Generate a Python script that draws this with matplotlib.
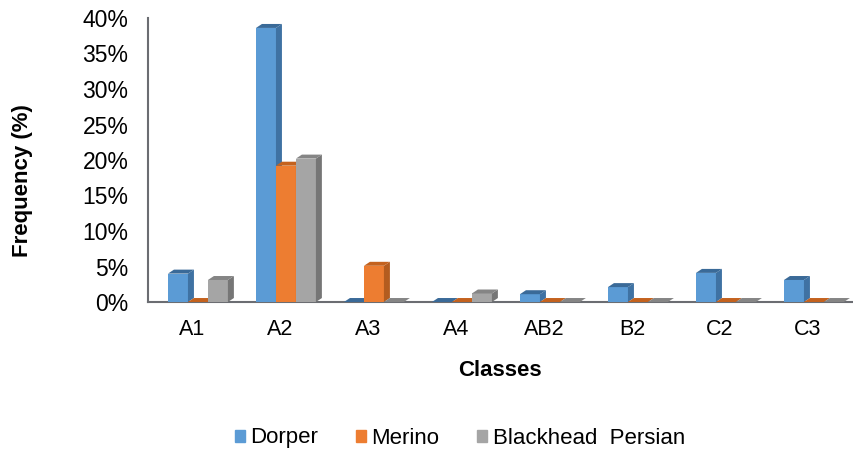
import matplotlib.pyplot as plt
from matplotlib.patches import Polygon, Patch
import numpy as np

classes = ["A1", "A2", "A3", "A4", "AB2", "B2", "C2", "C3"]
dorper = [4.0, 38.6, 0.0, 0.0, 1.1, 2.1, 4.1, 3.1]
merino = [0.0, 19.2, 5.1, 0.0, 0.0, 0.0, 0.0, 0.0]
blackhead = [3.1, 20.2, 0.0, 1.2, 0.0, 0.0, 0.0, 0.0]
series_names = ["Dorper", "Merino", "Blackhead  Persian"]
yticks = [0, 5, 10, 15, 20, 25, 30, 35, 40]

# front, side, top colours (excel-like)
colors = [("#5B9BD5", "#3F72A3", "#3A6A98"),
          ("#ED7D31", "#B35C1F", "#C4621E"),
          ("#A5A5A5", "#767676", "#858585")]

plt.rcParams['font.family'] = ['Liberation Sans', 'DejaVu Sans']

fig = plt.figure(figsize=(8.54, 4.55), dpi=100)
ax = fig.add_axes([148 / 854, 1 - 302 / 455, 704 / 854, 284 / 455])

x = np.arange(len(classes))
w = 0.227
dx, dy = 0.068, 0.56  # fake 3d depth in data units
for k, vals in enumerate([dorper, merino, blackhead]):
    front, side, top = colors[k]
    bars = ax.bar(x - 0.273 + k * w, vals, width=w, align='edge', color=front,
                  zorder=3 + k, linewidth=0)
    for b in bars:
        x0, bw, h = b.get_x(), b.get_width(), b.get_height()
        ax.add_patch(Polygon([(x0 + bw, 0), (x0 + bw + dx, dy), (x0 + bw + dx, h + dy), (x0 + bw, h)],
                             closed=True, color=side, lw=0, zorder=3 + k, clip_on=False))
        ax.add_patch(Polygon([(x0, h), (x0 + dx, h + dy), (x0 + bw + dx, h + dy), (x0 + bw, h)],
                             closed=True, color=top, lw=0, zorder=3 + k, clip_on=False))

ax.set_xlim(-0.5, len(classes) - 0.5)
ax.set_ylim(0, 40)
ax.set_yticks(yticks, [f"{t}%" for t in yticks])
ax.set_xticks(x, classes)
ax.tick_params(axis='y', length=0, labelsize=16.5, colors='black', pad=14)
ax.tick_params(axis='x', length=0, labelsize=15.5, colors='black', pad=12)
for s in ["top", "right"]:
    ax.spines[s].set_visible(False)
for s in ["left", "bottom"]:
    ax.spines[s].set_color("#6B6D72")
    ax.spines[s].set_linewidth(1.5)

ax.set_xlabel("Classes", fontsize=16, fontweight='bold')
ax.xaxis.set_label_coords(0.5, -0.204)
ax.set_ylabel("Frequency (%)", fontsize=16, fontweight='bold')
ax.yaxis.set_label_coords(-0.163, 0.426)

handles = [Patch(color=c[0]) for c in colors]
fig.legend(handles, series_names, loc='center', bbox_to_anchor=(460 / 854, 1 - 438 / 455),
           ncol=3, frameon=False, fontsize=16, handlelength=0.45, handleheight=0.45,
           handletextpad=0.25, columnspacing=1.7)

fig.savefig("out.png", dpi=100)
